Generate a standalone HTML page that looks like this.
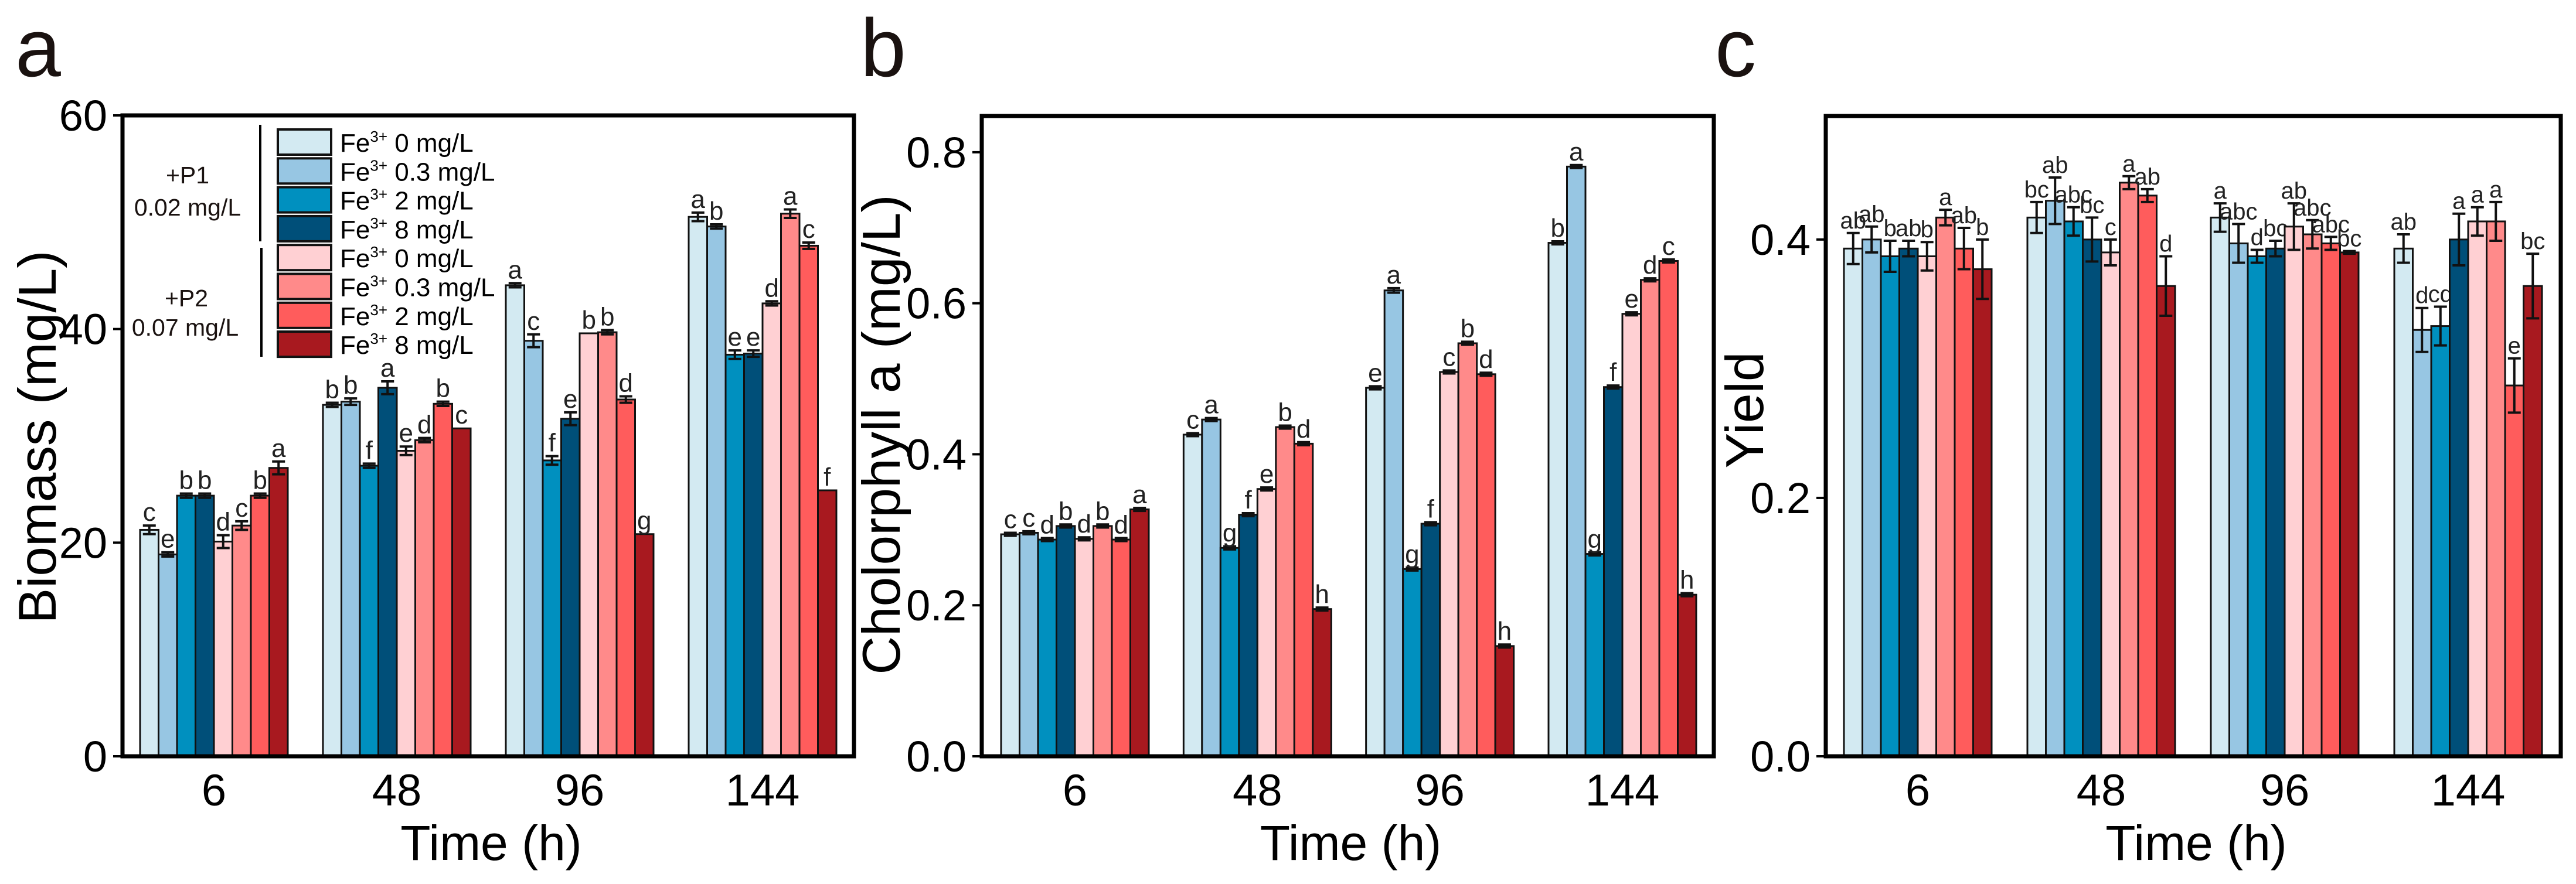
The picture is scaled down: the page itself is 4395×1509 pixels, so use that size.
<!DOCTYPE html>
<html><head><meta charset="utf-8"><style>
html,body{margin:0;padding:0;background:#fff;}
svg{display:block;font-family:"Liberation Sans",Arial,sans-serif;}
</style></head><body>
<svg id="fig" width="4395" height="1509" viewBox="0 0 4395 1509" xmlns="http://www.w3.org/2000/svg">
<rect width="4395" height="1509" fill="#fff"/>
<g id="legend"></g>
</svg>
<script>
// ---- data ----
const categories = ["6","48","96","144"];
const seriesColors = ["#d3eaf2","#97c6e3","#0090bf","#004f79","#ffd0d3","#ff8a8a","#ff5c5c","#a8191f"];
const seriesNames = ["Fe3+ 0 mg/L (P1)","Fe3+ 0.3 mg/L (P1)","Fe3+ 2 mg/L (P1)","Fe3+ 8 mg/L (P1)","Fe3+ 0 mg/L (P2)","Fe3+ 0.3 mg/L (P2)","Fe3+ 2 mg/L (P2)","Fe3+ 8 mg/L (P2)"];

const biomassValues = [
 [21.2,18.9,24.4,24.4,20.1,21.6,24.4,27.0],
 [32.9,33.2,27.2,34.5,28.6,29.6,33.0,30.7],
 [44.1,38.9,27.7,31.6,39.6,39.7,33.4,20.8],
 [50.5,49.6,37.6,37.7,42.4,50.8,47.8,24.9]];
const biomassErrors = [
 [0.4,0.2,0.2,0.2,0.6,0.4,0.2,0.6],
 [0.2,0.3,0.2,0.6,0.4,0.2,0.2,0.0],
 [0.2,0.6,0.4,0.6,0.0,0.2,0.3,0.0],
 [0.4,0.2,0.4,0.3,0.2,0.4,0.3,0.0]];
const biomassLetters = [
 ["c","e","b","b","d","c","b","a"],
 ["b","b","f","a","e","d","b","c"],
 ["a","c","f","e","b","b","d","g"],
 ["a","b","e","e","d","a","c","f"]];
const biomassTicks = [0,20,40,60];

const chlValues = [
 [0.294,0.296,0.287,0.305,0.288,0.305,0.287,0.327],
 [0.426,0.446,0.276,0.320,0.354,0.436,0.414,0.195],
 [0.488,0.617,0.248,0.308,0.509,0.547,0.506,0.146],
 [0.680,0.781,0.268,0.489,0.586,0.631,0.656,0.214]];
const chlErrors = [
 [0.002,0.002,0.002,0.002,0.002,0.002,0.002,0.002],
 [0.002,0.002,0.002,0.002,0.002,0.002,0.002,0.002],
 [0.002,0.003,0.002,0.002,0.002,0.002,0.002,0.002],
 [0.002,0.002,0.002,0.002,0.002,0.002,0.002,0.002]];
const chlLetters = [
 ["c","c","d","b","d","b","d","a"],
 ["c","a","g","f","e","b","d","h"],
 ["e","a","g","f","c","b","d","h"],
 ["b","a","g","f","e","d","c","h"]];
const chlTicks = [0.0,0.2,0.4,0.6,0.8];

const yieldValues = [
 [0.393,0.400,0.387,0.393,0.387,0.417,0.393,0.377],
 [0.417,0.430,0.414,0.400,0.390,0.444,0.434,0.364],
 [0.417,0.397,0.387,0.393,0.410,0.404,0.397,0.390],
 [0.393,0.330,0.333,0.400,0.414,0.414,0.287,0.364]];
const yieldErrors = [
 [0.012,0.010,0.012,0.006,0.011,0.006,0.016,0.023],
 [0.012,0.018,0.011,0.017,0.010,0.005,0.005,0.023],
 [0.011,0.015,0.005,0.006,0.018,0.011,0.005,0.001],
 [0.011,0.017,0.015,0.020,0.011,0.015,0.021,0.025]];
const yieldLetters = [
 ["ab","ab","b","ab","b","a","ab","b"],
 ["bc","ab","abc","bc","c","a","ab","d"],
 ["a","abc","d","bc","ab","abc","abc","bc"],
 ["ab","d","cd","a","a","a","e","bc"]];
const yieldTicks = [0.0,0.2,0.4];

// ---- drawing ----
const NS="http://www.w3.org/2000/svg";
const svg=document.getElementById('fig');
function el(tag,attrs,parent){const e=document.createElementNS(NS,tag);for(const k in attrs)e.setAttribute(k,attrs[k]);(parent||svg).appendChild(e);return e;}

function drawPanel(cfg){
  const g=el('g',{});
  
  
  const yScale=v=>cfg.bottom-(v-cfg.ymin)/(cfg.ymax-cfg.ymin)*(cfg.bottom-cfg.top);
  const gap=(cfg.lastStart-cfg.firstStart)/(categories.length-1);
  const barX=(gi,si)=>cfg.firstStart+gi*gap+si*cfg.barW;
  cfg.values.forEach((grp,gi)=>{
    grp.forEach((v,si)=>{
      const x=barX(gi,si), y=yScale(v);
      const r=el('rect',{x:x,y:y,width:cfg.barW,height:cfg.bottom-y,fill:seriesColors[si],stroke:'#111','stroke-width':3},g);
      
      
      const e=cfg.errors[gi][si];
      const cx=x+cfg.barW/2, y1=yScale(v+e), y2=yScale(v-e);
      if(e>0){
        const eb=el('path',{d:`M${cx},${y1}V${y2}M${cx-11},${y1}H${cx+11}M${cx-11},${y2}H${cx+11}`,stroke:'#111','stroke-width':4,fill:'none'},g);
        
        
      }
      const t=el('text',{x:cx,y:Math.min(y1,y)-8,'font-size':cfg.letterSize,'text-anchor':'middle',fill:'#222'},g);
      t.textContent=cfg.letters[gi][si];
      
      
    });
    const lx=cfg.firstStart+gi*gap+cfg.barW*4;
    const xl=el('text',{x:lx,y:1375,'font-size':76,'text-anchor':'middle',fill:'#000'},g);
    xl.textContent=categories[gi];
    
    
  });
  const fr=el('rect',{x:cfg.left,y:cfg.top,width:cfg.right-cfg.left,height:cfg.bottom-cfg.top,fill:'none',stroke:'#000','stroke-width':7},g);
  
  
  cfg.ticks.forEach(tv=>{
    const y=yScale(tv);
    const tk=el('line',{x1:cfg.left-16,x2:cfg.left,y1:y,y2:y,stroke:'#000','stroke-width':4},g);
    
    
    const tl=el('text',{x:cfg.left-26,y:y+26,'font-size':74,'text-anchor':'end',fill:'#000'},g);
    tl.textContent=cfg.tickFmt(tv);
    
    
  });
  const cy=cfg.titleY;
  const yt=el('text',{x:cfg.titleX,y:cy,'font-size':cfg.titleSize,'text-anchor':'middle',transform:`rotate(-90 ${cfg.titleX} ${cy})`,fill:'#000'},g);
  yt.textContent=cfg.ytitle;
  
  
  const xt=el('text',{x:(cfg.left+cfg.right)/2+5,y:1468,'font-size':84,'text-anchor':'middle',fill:'#000'},g);
  xt.textContent='Time (h)';
  
  
  const pl=el('text',{x:cfg.letterX,y:130,'font-size':140,fill:'#1a1210'},g);
  pl.textContent=cfg.panelLetter;
  
  
}

drawPanel({name:'panel-a-biomass',values:biomassValues,errors:biomassErrors,letters:biomassLetters,ticks:biomassTicks,
  tickFmt:v=>String(v),ymin:0,ymax:60,left:209,right:1457,top:197,bottom:1291,
  firstStart:239,lastStart:1175,barW:31.5,letterSize:44,ytitle:'Biomass (mg/L)',titleSize:91,titleX:95,titleY:746,letterX:26,panelLetter:'a'});
drawPanel({name:'panel-b-chlorophyll',values:chlValues,errors:chlErrors,letters:chlLetters,ticks:chlTicks,
  tickFmt:v=>v.toFixed(1),ymin:0,ymax:0.848,left:1675,right:2924,top:198,bottom:1291,
  firstStart:1708,lastStart:2642,barW:31.5,letterSize:44,ytitle:'Cholorphyll a (mg/L)',titleSize:91,titleX:1535,titleY:742,letterX:1468,panelLetter:'b'});
drawPanel({name:'panel-c-yield',values:yieldValues,errors:yieldErrors,letters:yieldLetters,ticks:yieldTicks,
  tickFmt:v=>v.toFixed(1),ymin:0,ymax:0.4956,left:3115,right:4369,top:198,bottom:1291,
  firstStart:3146,lastStart:4085,barW:31.5,letterSize:40,ytitle:'Yield',titleSize:91,titleX:3008,titleY:700,letterX:2926,panelLetter:'c'});

// legend
const lg=document.getElementById('legend');
svg.appendChild(lg);
const legLabels=["0","0.3","2","8","0","0.3","2","8"];
legLabels.forEach((lab,i)=>{
  const y=221+i*49.3;
  const sw=el('rect',{x:474,y:y,width:91,height:43,fill:seriesColors[i],stroke:'#111','stroke-width':4},lg);
  
  
  const t=el('text',{x:580,y:y+38,'font-size':44,fill:'#000'},lg);
  t.innerHTML='Fe<tspan font-size="26" dy="-17">3+</tspan><tspan dy="17"> '+lab+' mg/L</tspan>';
  
  
});
const l1=el('line',{x1:444,x2:444,y1:213,y2:412,stroke:'#000','stroke-width':4},lg);


const l2=el('line',{x1:446,x2:446,y1:423,y2:609,stroke:'#000','stroke-width':4},lg);


[["+P1",320,313],["0.02 mg/L",320,368],["+P2",318,523],["0.07 mg/L",316,573]].forEach(a=>{
  const t=el('text',{x:a[1],y:a[2],'font-size':41,'text-anchor':'middle',fill:'#1a1210'},lg);
  t.textContent=a[0];
  
  
});
</script>
</body></html>
